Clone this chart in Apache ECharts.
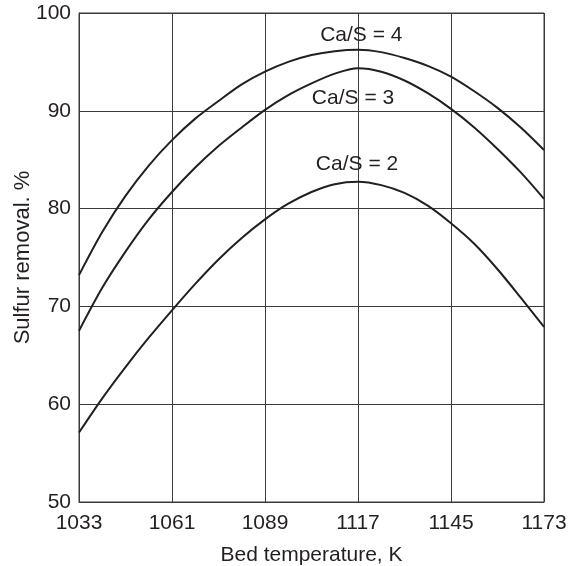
<!DOCTYPE html>
<html>
<head>
<meta charset="utf-8">
<script src="https://cdn.jsdelivr.net/npm/echarts@6/dist/echarts.min.js"></script>
<style>
  html, body { margin: 0; padding: 0; background: #fff; }
  #box { width: 570px; height: 566px; }
</style>
</head>
<body>
<div id="box"></div>
<script>
// bed temperature (K) where the curves were read, every 7 K
var temps = [1033, 1040, 1047, 1054, 1061, 1068, 1075, 1082, 1089, 1096, 1103,
	1110, 1117, 1124, 1131, 1138, 1145, 1152, 1159, 1166, 1173];
// sulfur removal %, one array per Ca/S ratio
var caS4 = [73.2, 77.6, 81.3, 84.4, 87.0, 89.2, 91.0, 92.7, 94.0, 95.0, 95.7,
	96.1, 96.25, 96.0, 95.4, 94.6, 93.5, 92.0, 90.3, 88.3, 86.0];
var caS3 = [67.5, 71.9, 75.6, 78.9, 81.7, 84.2, 86.4, 88.3, 90.1, 91.6, 92.8,
	93.8, 94.35, 94.0, 93.1, 91.8, 90.2, 88.3, 86.1, 83.7, 81.0];
var caS2 = [57.1, 60.6, 63.8, 66.8, 69.6, 72.3, 74.8, 77.0, 78.9, 80.5, 81.7,
	82.5, 82.75, 82.4, 81.6, 80.3, 78.5, 76.4, 73.8, 70.9, 67.9];
var seriesNames = ['Ca/S = 4', 'Ca/S = 3', 'Ca/S = 2'];
var xTicks = [1033, 1061, 1089, 1117, 1145, 1173];
var yTicks = [50, 60, 70, 80, 90, 100];

function pairs(vals) {
	var out = [];
	for (var i = 0; i < temps.length; i++) {
		out.push([temps[i], vals[i]]);
	}
	return out;
}

var ink = '#231f20';
var gridInk = '#3a3a3a';
var font = 'Liberation Sans, Arial, sans-serif';

// where the curve names sit, in data units
var labelAt = [[1118, 97.7], [1115.5, 91.3], [1116.7, 84.55]];

function curve(name, vals, k) {
	return {
		name: name,
		type: 'line',
		data: pairs(vals),
		smooth: 0.3,
		showSymbol: false,
		lineStyle: { color: ink, width: 2 },
		z: 3,
		markPoint: {
			symbol: 'circle',
			symbolSize: 0,
			silent: true,
			label: {
				show: true,
				position: 'inside',
				formatter: name,
				color: ink,
				fontFamily: font,
				fontSize: 21
			},
			data: [{ coord: labelAt[k] }]
		}
	};
}

var myChart = echarts.init(document.getElementById('box'));
var option = {
	animation: false,
	backgroundColor: '#fff',
	grid: {
		left: 79, right: 26, top: 13, bottom: 64,
		outerBoundsMode: 'none',
		containLabel: false,
		show: true, borderColor: gridInk, borderWidth: 1
	},
	xAxis: {
		type: 'value',
		min: 1033, max: 1173, interval: 28,
		name: 'Bed temperature, K',
		nameLocation: 'middle',
		nameGap: 43,
		nameMoveOverlap: false,
		nameTextStyle: { color: ink, fontFamily: font, fontSize: 21 },
		axisLine: { show: true, lineStyle: { color: gridInk, width: 1 } },
		axisTick: { show: false },
		axisLabel: {
			color: ink, fontFamily: font, fontSize: 21, margin: 11,
			customValues: xTicks,
			formatter: function (v) { return String(v); }
		},
		splitLine: { show: true, lineStyle: { color: gridInk, width: 1 } }
	},
	yAxis: {
		type: 'value',
		min: 50, max: 100, interval: 10,
		name: 'Sulfur removal. %',
		nameLocation: 'middle',
		nameGap: 45,
		nameMoveOverlap: false,
		nameTextStyle: { color: ink, fontFamily: font, fontSize: 22 },
		axisLine: { show: true, lineStyle: { color: gridInk, width: 1 } },
		axisTick: { show: false },
		axisLabel: {
			color: ink, fontFamily: font, fontSize: 21, margin: 8,
			customValues: yTicks,
			formatter: function (v) { return String(v); }
		},
		splitLine: { show: true, lineStyle: { color: gridInk, width: 1 } }
	},
	series: [
		curve(seriesNames[0], caS4, 0),
		curve(seriesNames[1], caS3, 1),
		curve(seriesNames[2], caS2, 2)
	]
};
myChart.setOption(option);
</script>
</body>
</html>
